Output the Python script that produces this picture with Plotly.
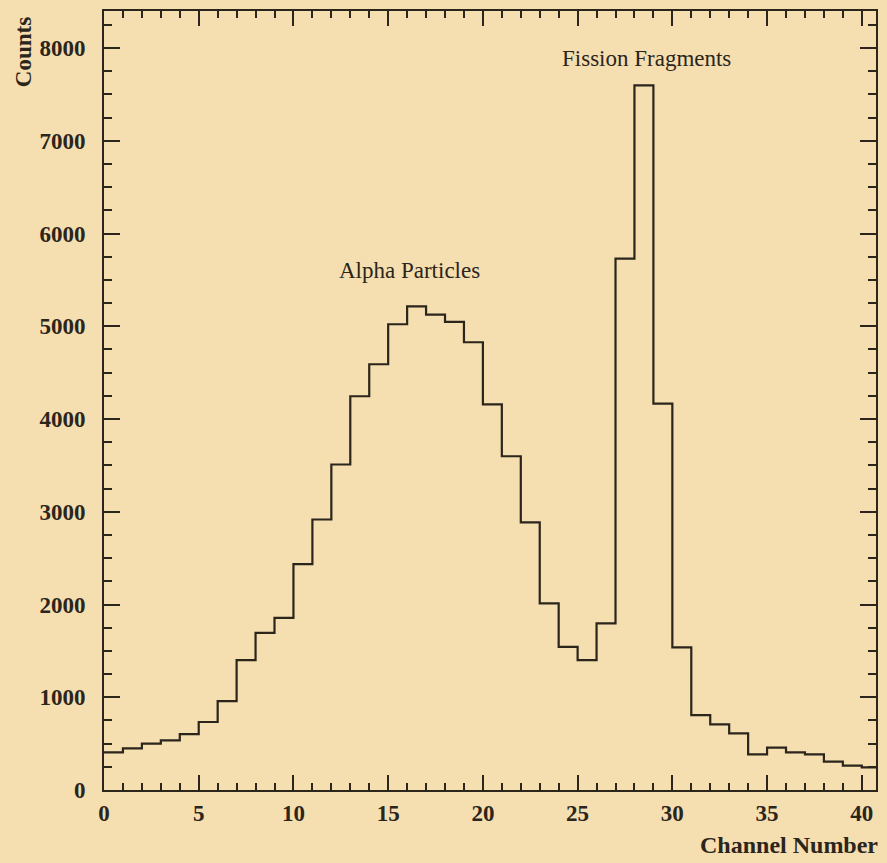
import plotly.graph_objects as go

# Channel numbers (bin left edges) and counts per channel
channels = list(range(41))
counts = [406, 449, 499, 535, 603, 733, 959, 1401, 1695, 1857,
          2435, 2917, 3510, 4246, 4591, 5022, 5216, 5126, 5047, 4828,
          4159, 3599, 2885, 2012, 1544, 1401, 1796, 5729, 7597, 4167,
          1537, 808, 708, 611, 384, 456, 406, 384, 305, 262, 244]

x_ticks = [0, 5, 10, 15, 20, 25, 30, 35, 40]
y_ticks = [0, 1000, 2000, 3000, 4000, 5000, 6000, 7000, 8000]

bg = "#f5deb0"
ink = "#2b251b"
serif = "Liberation Serif"

xs = channels + [channels[-1] + 1]
ys = counts + [counts[-1]]

fig = go.Figure()
fig.add_trace(go.Scatter(x=xs, y=ys, mode="lines", line_shape="hv",
                         line=dict(color=ink, width=2.2), showlegend=False,
                         cliponaxis=True))

axis_common = dict(showline=True, linecolor=ink, linewidth=2, mirror="ticks",
                   ticks="inside", tickcolor=ink, tickwidth=2, showgrid=False,
                   zeroline=False,
                   tickfont=dict(family=serif, size=23, color=ink, weight="bold"))

fig.update_xaxes(range=[0, 40.75], tickvals=x_ticks, ticklen=15,
                 minor=dict(dtick=1, ticklen=7, ticks="inside", tickcolor=ink, tickwidth=2),
                 ticklabelstandoff=1, **axis_common)
fig.update_yaxes(range=[0, 8400], tickvals=y_ticks, ticklen=16,
                 minor=dict(dtick=250, ticklen=8, ticks="inside", tickcolor=ink, tickwidth=2),
                 ticklabelstandoff=12, **axis_common)

fig.add_annotation(text="Counts", xref="paper", yref="paper", x=-0.1034, y=0.9474,
                   textangle=-90, showarrow=False, xanchor="center", yanchor="middle",
                   font=dict(family=serif, size=23, color=ink, weight="bold"))
fig.add_annotation(text="Channel Number", xref="paper", yref="paper", x=1.005, y=-0.0705,
                   showarrow=False, xanchor="right", yanchor="middle",
                   font=dict(family=serif, size=24, color=ink, weight="bold"))
fig.add_annotation(text="Alpha Particles", x=16.1, y=5600, showarrow=False,
                   xanchor="center", yanchor="middle",
                   font=dict(family=serif, size=23, color=ink))
fig.add_annotation(text="Fission Fragments", x=28.65, y=7883, showarrow=False,
                   xanchor="center", yanchor="middle",
                   font=dict(family=serif, size=23, color=ink))

fig.update_layout(width=887, height=863,
                  margin=dict(l=104, r=9, t=10, b=73),
                  paper_bgcolor=bg, plot_bgcolor=bg)

fig.write_html("out.html", config={"displayModeBar": False},
               post_script="document.body.style.margin='0';"
                           "document.body.style.background='" + bg + "';")
